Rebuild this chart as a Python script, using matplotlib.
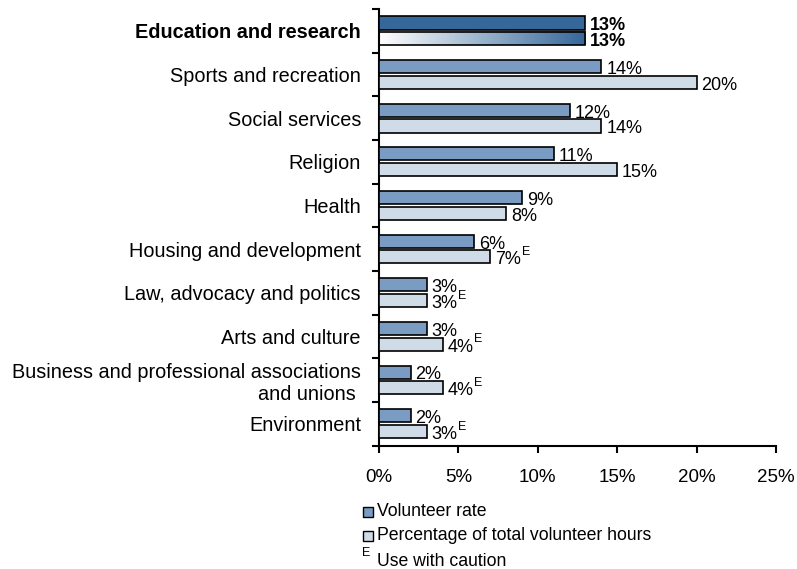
import numpy as np
import matplotlib
matplotlib.use("Agg")
import matplotlib.pyplot as plt
from matplotlib.colors import LinearSegmentedColormap
from matplotlib.patches import Rectangle

plt.rcParams["font.family"] = ["Liberation Sans", "DejaVu Sans"]

categories = [
    "Education and research",
    "Sports and recreation",
    "Social services",
    "Religion",
    "Health",
    "Housing and development",
    "Law, advocacy and politics",
    "Arts and culture",
    "Business and professional associations\nand unions ",
    "Environment",
]
volunteer_rate = [13, 14, 12, 11, 9, 6, 3, 3, 2, 2]
pct_hours = [13, 20, 14, 15, 8, 7, 3, 4, 4, 3]
hours_caution = [False, False, False, False, False, True, True, True, True, True]
xticks = [0, 5, 10, 15, 20, 25]

RATE_COLOR = "#7b9cc2"
HOURS_COLOR = "#cfdbe6"
HIGHLIGHT = "#35679a"
BAR_H = 0.30
OFFSET = 0.18

fig = plt.figure(figsize=(7.97, 5.69), dpi=100)
ax = fig.add_axes([0.4755, 0.217, 0.4982, 0.7672])

y = np.arange(len(categories))
rate_colors = [HIGHLIGHT] + [RATE_COLOR] * (len(categories) - 1)
hours_colors = ["none"] + [HOURS_COLOR] * (len(categories) - 1)

ax.barh(y - OFFSET, volunteer_rate, height=BAR_H, color=rate_colors,
        edgecolor="black", linewidth=1.2, zorder=3)
ax.barh(y + OFFSET, pct_hours, height=BAR_H, color=hours_colors,
        edgecolor="black", linewidth=1.2, zorder=3)

# white-to-blue fill for the highlighted hours bar
grad_cmap = LinearSegmentedColormap.from_list("hl", ["#ffffff", HIGHLIGHT])
ax.imshow(np.linspace(0, 1, 256).reshape(1, -1), cmap=grad_cmap,
          extent=(0, pct_hours[0], y[0] + OFFSET + BAR_H / 2, y[0] + OFFSET - BAR_H / 2),
          aspect="auto", zorder=2)

ax.set_xlim(0, 25)
ax.set_ylim(len(categories) - 0.5, -0.5)

# value labels
for i in range(len(categories)):
    weight = "bold" if i == 0 else "normal"
    ax.annotate(f"{volunteer_rate[i]}%", (volunteer_rate[i], y[i] - OFFSET),
                xytext=(3.5, -2), textcoords="offset points", va="center",
                ha="left", fontsize=13, fontweight=weight)
    t = ax.annotate(f"{pct_hours[i]}%", (pct_hours[i], y[i] + OFFSET),
                    xytext=(3.5, -2), textcoords="offset points", va="center",
                    ha="left", fontsize=13, fontweight=weight)
    if hours_caution[i]:
        ax.annotate("E", (1, 1), xycoords=t, xytext=(0.5, -0.5),
                    textcoords="offset points", ha="left", va="center",
                    fontsize=9)

ax.set_yticks(y)
ax.set_yticklabels(categories, fontsize=14.3)
ax.get_yticklabels()[0].set_fontweight("bold")
ax.set_yticks(np.arange(-0.5, len(categories)), minor=True)
ax.tick_params(axis="y", which="major", length=0, pad=13)
ax.tick_params(axis="y", which="minor", length=5, width=1.5, direction="out")

ax.set_xticks(xticks)
ax.set_xticklabels([f"{v}%" for v in xticks], fontsize=13.5)
ax.tick_params(axis="x", length=5, width=1.5, pad=12)

for side in ("top", "right"):
    ax.spines[side].set_visible(False)
for side in ("left", "bottom"):
    ax.spines[side].set_linewidth(1.5)

# legend under the axis
W, H = 797, 569
legend_rows = [("Volunteer rate", RATE_COLOR, 512), ("Percentage of total volunteer hours", HOURS_COLOR, 536)]
for label, color, py in legend_rows:
    fig.patches.append(Rectangle((363 / W, 1 - (py + 5) / H), 10 / W, 10 / H,
                                 transform=fig.transFigure, facecolor=color,
                                 edgecolor="black", linewidth=1.0))
    fig.text(377 / W, 1 - py / H, label, fontsize=12.7, va="center", ha="left")
fig.text(362 / W, 1 - 553 / H, "E", fontsize=9, va="center", ha="left")
fig.text(377 / W, 1 - 561 / H, "Use with caution", fontsize=12.7, va="center", ha="left")

fig.savefig("out.png", dpi=100)
